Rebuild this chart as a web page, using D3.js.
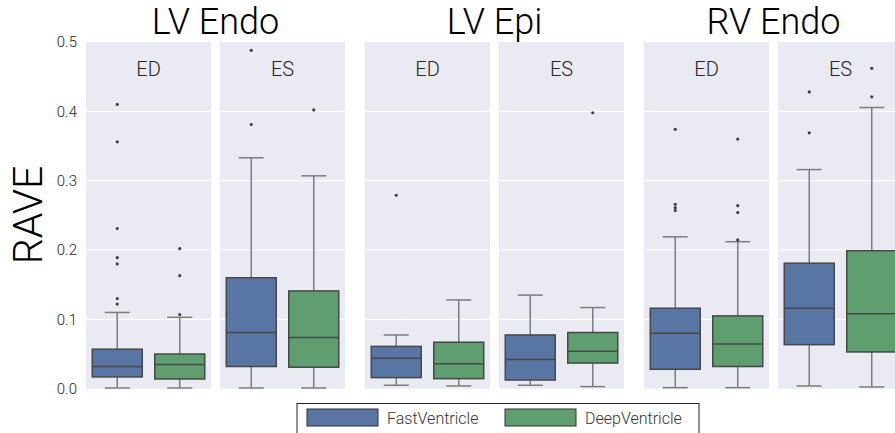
<!DOCTYPE html>
<html>
<head>
<meta charset="utf-8">
<script src="https://cdn.jsdelivr.net/npm/d3@7/dist/d3.min.js"></script>
<style>
  html, body { margin: 0; padding: 0; background: #fff; }
  svg { display: block; }
  text { font-family: "Roboto", "Liberation Sans", sans-serif; font-weight: 300; }
</style>
</head>
<body>
<svg id="chart" width="895" height="433"></svg>
<script>
// ---------------- data ----------------
const groups = ["LV Endo", "LV Epi", "RV Endo"];
const phases = ["ED", "ES"];
const series = ["FastVentricle", "DeepVentricle"];
const yTicks = [0.0, 0.1, 0.2, 0.3, 0.4, 0.5];

// box stats per panel, order: LV Endo ED, LV Endo ES, LV Epi ED, LV Epi ES, RV Endo ED, RV Endo ES
// [lower whisker, Q1, median, Q3, upper whisker]
const fastStats = [
  [0.001, 0.017, 0.032, 0.057, 0.110],
  [0.001, 0.032, 0.081, 0.160, 0.333],
  [0.005, 0.016, 0.044, 0.061, 0.0775],
  [0.005, 0.0125, 0.042, 0.0775, 0.135],
  [0.0015, 0.028, 0.080, 0.116, 0.219],
  [0.004, 0.0635, 0.116, 0.181, 0.316]
];
const deepStats = [
  [0.001, 0.014, 0.035, 0.050, 0.103],
  [0.001, 0.031, 0.074, 0.141, 0.307],
  [0.004, 0.0145, 0.036, 0.067, 0.128],
  [0.003, 0.037, 0.054, 0.081, 0.117],
  [0.0015, 0.032, 0.0645, 0.105, 0.212],
  [0.0025, 0.053, 0.108, 0.199, 0.4055]
];
const fastOutliers = [
  [0.410, 0.356, 0.231, 0.189, 0.180, 0.130, 0.122],
  [0.488, 0.381],
  [0.279],
  [],
  [0.374, 0.266, 0.261, 0.257],
  [0.428, 0.369]
];
const deepOutliers = [
  [0.202, 0.163, 0.107],
  [0.402],
  [],
  [0.398],
  [0.360, 0.264, 0.254, 0.2146],
  [0.462, 0.421]
];

// ---------------- layout ----------------
const svg = d3.select("#chart");
const colors = { "FastVentricle": "#5875a4", "DeepVentricle": "#5f9e6e" };
const statsBySeries = { "FastVentricle": fastStats, "DeepVentricle": deepStats };
const outBySeries = { "FastVentricle": fastOutliers, "DeepVentricle": deepOutliers };

const y = d3.scaleLinear().domain([0, 0.5]).range([388.7, 42]);
const xGroup = d3.scaleBand().domain(groups).range([86, 903]).paddingInner(0.0717);
const xPhase = d3.scaleBand().domain(phases).range([0, xGroup.bandwidth()]).paddingInner(0.0672);
const xSeries = d3.scaleBand().domain(series).range([0, xPhase.bandwidth()]).paddingInner(0.2).paddingOuter(0.1);

// titles
svg.selectAll("text.title").data(groups).join("text")
  .attr("class", "title")
  .attr("x", g => xGroup(g) + xGroup.bandwidth() / 2)
  .attr("y", 34)
  .attr("text-anchor", "middle")
  .attr("font-size", 36)
  .attr("fill", "#000")
  .text(g => g);

// y label
svg.append("text")
  .attr("transform", "translate(42,215) rotate(-90)")
  .attr("text-anchor", "middle")
  .attr("font-size", 41)
  .attr("fill", "#000")
  .text("RAVE");

// y tick labels
svg.selectAll("text.ytick").data(yTicks).join("text")
  .attr("class", "ytick")
  .attr("x", 77)
  .attr("y", d => y(d))
  .attr("dy", "0.35em")
  .attr("text-anchor", "end")
  .attr("font-size", 15)
  .attr("fill", "#262626")
  .text(d => d3.format(".1f")(d));

// panels
groups.forEach((g, gi) => {
  phases.forEach((p, pi) => {
    const idx = gi * 2 + pi;
    const px = xGroup(g) + xPhase(p);
    const pw = xPhase.bandwidth();
    const panel = svg.append("g").attr("transform", `translate(${px},0)`);
    panel.append("rect")
      .attr("x", 0).attr("y", y(0.5))
      .attr("width", pw).attr("height", y(0) - y(0.5))
      .attr("fill", "#eaeaf2");
    // grid
    panel.selectAll("line.grid").data(yTicks.slice(1, -1)).join("line")
      .attr("x1", 0).attr("x2", pw)
      .attr("y1", d => y(d)).attr("y2", d => y(d))
      .attr("stroke", "#fff").attr("stroke-width", 1.2);
    // phase label
    panel.append("text")
      .attr("x", pw / 2).attr("y", 76)
      .attr("text-anchor", "middle")
      .attr("font-size", 20)
      .attr("fill", "#262626")
      .text(p);
    // boxes
    series.forEach(s => {
      const st = statsBySeries[s][idx];
      const bx = xSeries(s);
      const bw = xSeries.bandwidth();
      const cx = bx + bw / 2;
      const cap = bw / 4;
      const wc = "#7d7d7d";
      // whiskers
      panel.append("line").attr("x1", cx).attr("x2", cx)
        .attr("y1", y(st[3])).attr("y2", y(st[4])).attr("stroke", wc).attr("stroke-width", 1.5);
      panel.append("line").attr("x1", cx).attr("x2", cx)
        .attr("y1", y(st[1])).attr("y2", y(st[0])).attr("stroke", wc).attr("stroke-width", 1.5);
      panel.append("line").attr("x1", cx - cap).attr("x2", cx + cap)
        .attr("y1", y(st[4])).attr("y2", y(st[4])).attr("stroke", wc).attr("stroke-width", 1.5);
      panel.append("line").attr("x1", cx - cap).attr("x2", cx + cap)
        .attr("y1", y(st[0])).attr("y2", y(st[0])).attr("stroke", wc).attr("stroke-width", 1.5);
      // box
      panel.append("rect")
        .attr("x", bx).attr("width", bw)
        .attr("y", y(st[3])).attr("height", y(st[1]) - y(st[3]))
        .attr("fill", colors[s]).attr("stroke", "#474747").attr("stroke-width", 1.5);
      panel.append("line").attr("x1", bx).attr("x2", bx + bw)
        .attr("y1", y(st[2])).attr("y2", y(st[2])).attr("stroke", "#474747").attr("stroke-width", 1.5);
      // outliers
      panel.selectAll(null).data(outBySeries[s][idx]).join("circle")
        .attr("cx", cx).attr("cy", d => y(d)).attr("r", 1.6)
        .attr("fill", "#404040");
    });
  });
});

// legend
const lg = svg.append("g");
lg.append("rect").attr("x", 297).attr("y", 403.5).attr("width", 402).attr("height", 40)
  .attr("fill", "#fff").attr("stroke", "#222").attr("stroke-width", 1);
const legendX = d3.scaleOrdinal().domain(series).range([307, 505]);
series.forEach(s => {
  lg.append("rect").attr("x", legendX(s)).attr("y", 409).attr("width", 71).attr("height", 17)
    .attr("fill", colors[s]).attr("stroke", "#333").attr("stroke-width", 1);
  lg.append("text").attr("x", legendX(s) + 80).attr("y", 418).attr("dy", "0.35em")
    .attr("font-size", 16).attr("fill", "#333").text(s);
});
</script>
</body>
</html>
